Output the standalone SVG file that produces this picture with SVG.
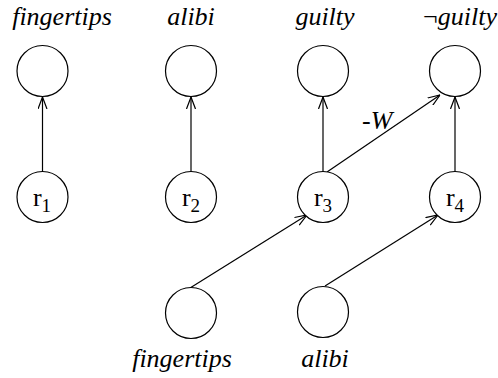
<svg xmlns="http://www.w3.org/2000/svg" width="498" height="378" viewBox="0 0 498 378">
<style>
.n{fill:#fff;stroke:#000;stroke-width:1.2}
.e{stroke:#000;stroke-width:1.2;fill:none;marker-end:url(#a)}
.l{font-family:"Liberation Serif","Times New Roman",serif;font-style:italic;font-size:26px;fill:#000;text-anchor:middle}
.r{font-family:"Liberation Serif","Times New Roman",serif;font-size:26px;fill:#000;text-anchor:middle}
.s{font-size:19px}
</style>
<defs>
<marker id="a" viewBox="0 0 12 10" refX="12" refY="5" markerWidth="12" markerHeight="10" markerUnits="userSpaceOnUse" orient="auto">
<path d="M0,0.5 L12,5 L0,9.5" fill="none" stroke="#000" stroke-width="1.2"/>
</marker>
</defs>
<g id="connectors">
<line class="e" x1="42.5" y1="172" x2="42.5" y2="97"/>
<line class="e" x1="191" y1="172" x2="191" y2="97"/>
<line class="e" x1="323" y1="172" x2="323" y2="97"/>
<line class="e" x1="455" y1="172" x2="455" y2="97"/>
<line class="e" x1="327" y1="172" x2="440" y2="95"/>
<line class="e" x1="190" y1="288" x2="307" y2="215"/>
<line class="e" x1="325" y1="286" x2="438" y2="215"/>
<text x="362" y="129" class="r" style="text-anchor:start">-<tspan font-style="italic">W</tspan></text>
</g>
<g id="n_fingertips_top"><circle class="n" cx="42.5" cy="71" r="25.5"/><text class="l" x="62" y="25">fingertips</text></g>
<g id="n_alibi_top"><circle class="n" cx="191" cy="71" r="25.5"/><text class="l" x="191" y="25">alibi</text></g>
<g id="n_guilty"><circle class="n" cx="323" cy="71" r="25.5"/><text class="l" x="325" y="25">guilty</text></g>
<g id="n_notguilty"><circle class="n" cx="455" cy="71" r="25.5"/><text class="l" x="497" y="25" style="text-anchor:end"><tspan font-style="normal">¬</tspan>guilty</text></g>
<g id="r1"><circle class="n" cx="42.5" cy="197" r="25.5"/><text class="r" x="42" y="206">r<tspan class="s" dy="6">1</tspan></text></g>
<g id="r2"><circle class="n" cx="191" cy="197" r="25.5"/><text class="r" x="191" y="206">r<tspan class="s" dy="6">2</tspan></text></g>
<g id="r3"><circle class="n" cx="323" cy="197" r="25.5"/><text class="r" x="323" y="206">r<tspan class="s" dy="6">3</tspan></text></g>
<g id="r4"><circle class="n" cx="455" cy="197" r="25.5"/><text class="r" x="455" y="206">r<tspan class="s" dy="6">4</tspan></text></g>
<g id="n_fingertips_bottom"><circle class="n" cx="191" cy="313" r="25.5"/><text class="l" x="182" y="367">fingertips</text></g>
<g id="n_alibi_bottom"><circle class="n" cx="323" cy="312" r="25.5"/><text class="l" x="325" y="367">alibi</text></g>
</svg>
